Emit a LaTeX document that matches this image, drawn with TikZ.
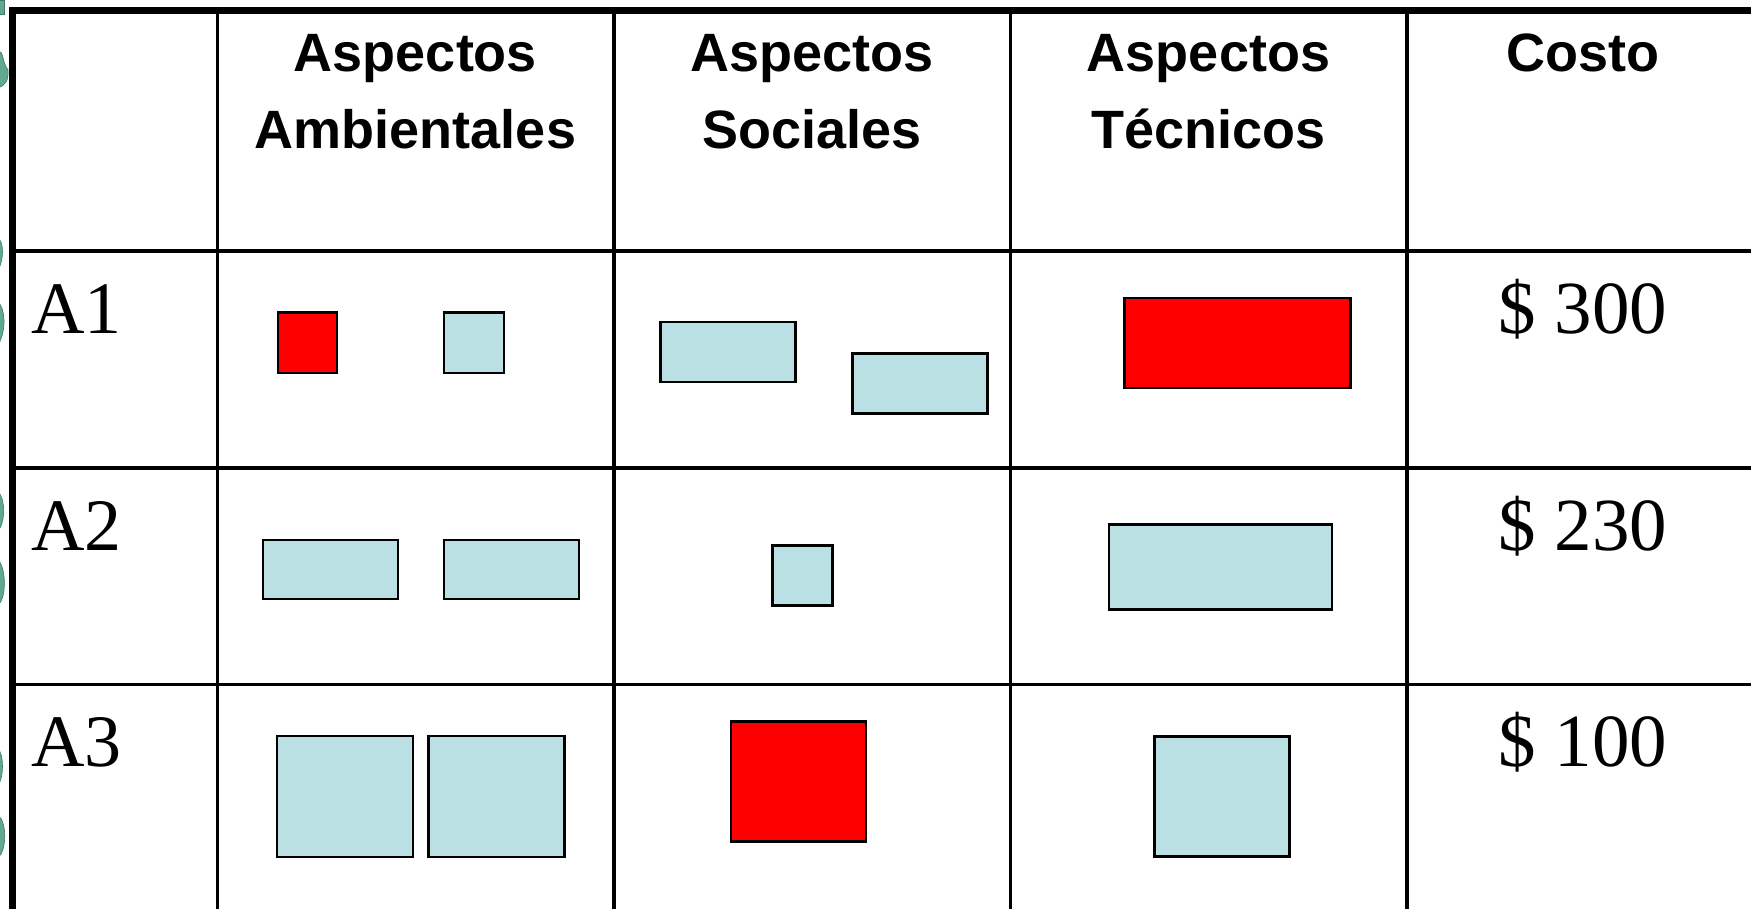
\documentclass[tikz,border=0pt]{standalone}
\usepackage{fontspec}
\setmainfont{Liberation Serif}
\newfontfamily\hdfont{Liberation Sans}
\definecolor{cellblue}{HTML}{BBE0E3}
\definecolor{cellred}{HTML}{FF0000}
\definecolor{blobgreen}{HTML}{5FA892}
\tikzset{
  boxbase/.style={draw=black, line width=2.6pt, inner sep=0pt, outer sep=0pt},
  bluebox/.style={boxbase, fill=cellblue},
  redbox/.style={boxbase, fill=cellred},
  head/.style={anchor=base, inner sep=0pt, font=\hdfont\bfseries\fontsize{54}{64}\selectfont},
  rowlab/.style={anchor=base west, inner sep=0pt, font=\fontsize{74}{80}\selectfont},
  cost/.style={anchor=base, inner sep=0pt, font=\fontsize{75}{80}\selectfont},
  thin/.style={line width=3.3pt},
  thick/.style={line width=6.8pt},
  blob/.style={fill=blobgreen, draw=blobgreen!70!black, line width=0.6pt}
}
\begin{document}
\begin{tikzpicture}[x=1pt,y=-1pt]
\useasboundingbox (0,0) rectangle (1751,909);
\fill[white] (0,0) rectangle (1751,909);
% decorative green fragments at the left edge
\fill[blob] (-2,0) rectangle (4,14);
\draw[blob] (-2,50) .. controls (4,52) and (2,62) .. (8,70) .. controls (9,80) and (5,86) .. (-2,88) -- cycle;
\draw[blob] (-2,238) .. controls (4,242) and (4,260) .. (-2,270) -- cycle;
\draw[blob] (-2,302) .. controls (5,308) and (7,330) .. (-2,345) -- cycle;
\draw[blob] (-2,492) .. controls (5,497) and (6,522) .. (-2,531) -- cycle;
\draw[blob] (-2,560) .. controls (6,567) and (7,598) .. (-2,605) -- cycle;
\draw[blob] (-2,749) .. controls (4,754) and (4,778) .. (-2,785) -- cycle;
\draw[blob] (-2,815) .. controls (7,822) and (7,850) .. (-2,858) -- cycle;
% table grid
\coordinate (tl) at (12.7,10.4);
\coordinate (tr) at (1751,10.4);
\coordinate (bl) at (12.7,909);
\coordinate (c1t) at (217.5,10.4);
\coordinate (c1b) at (217.5,909);
\coordinate (c2t) at (614,10.4);
\coordinate (c2b) at (614,909);
\coordinate (c3t) at (1010.5,10.4);
\coordinate (c3b) at (1010.5,909);
\coordinate (c4t) at (1407,10.4);
\coordinate (c4b) at (1407,909);
\coordinate (r1l) at (12.7,251);
\coordinate (r1r) at (1751,251);
\coordinate (r2l) at (12.7,468);
\coordinate (r2r) at (1751,468);
\coordinate (r3l) at (12.7,684.5);
\coordinate (r3r) at (1751,684.5);
\draw[thin] (c1t) -- (c1b) (c2t) -- (c2b) (c3t) -- (c3b) (c4t) -- (c4b);
\draw[thin] (r1l) -- (r1r) (r2l) -- (r2r) (r3l) -- (r3r);
\draw[thick] (bl) -- (tl) -- (tr);
% headers
\node[head] (h1a) at (415.5,72) {Aspectos};
\node[head] (h1b) at (415.5,148.5) {Ambientales};
\node[head] (h2a) at (812,72) {Aspectos};
\node[head] (h2b) at (812,148.5) {Sociales};
\node[head] (h3a) at (1208.5,72) {Aspectos};
\node[head] (h3b) at (1208.5,148.5) {Técnicos};
\node[head] (h4a) at (1583,72) {Costo};
% row labels
\node[rowlab] (a1) at (31,334) {A1};
\node[rowlab] (a2) at (31,550) {A2};
\node[rowlab] (a3) at (31,766) {A3};
% costs
\node[cost] (k1) at (1583,334) {\$ 300};
\node[cost] (k2) at (1583,550) {\$ 230};
\node[cost] (k3) at (1583,766) {\$ 100};
% row A1
\node[redbox, minimum width=59pt, minimum height=60pt] (a1amb1) at (307.5,342.8) {};
\node[bluebox, minimum width=60pt, minimum height=60pt] (a1amb2) at (473.9,342.8) {};
\node[bluebox, minimum width=135pt, minimum height=60pt] (a1soc1) at (727.9,351.9) {};
\node[bluebox, minimum width=135pt, minimum height=60pt] (a1soc2) at (920.2,383.7) {};
\node[redbox, minimum width=226pt, minimum height=90pt] (a1tec) at (1237.5,343) {};
% row A2
\node[bluebox, minimum width=135pt, minimum height=59pt] (a2amb1) at (330.5,569.5) {};
\node[bluebox, minimum width=135pt, minimum height=59pt] (a2amb2) at (511.5,569.5) {};
\node[bluebox, minimum width=60pt, minimum height=60pt] (a2soc) at (802.4,575.6) {};
\node[bluebox, minimum width=223pt, minimum height=85pt] (a2tec) at (1220.4,566.8) {};
% row A3
\node[bluebox, minimum width=136pt, minimum height=121pt] (a3amb1) at (345.1,796.3) {};
\node[bluebox, minimum width=136pt, minimum height=121pt] (a3amb2) at (496.5,796.3) {};
\node[redbox, minimum width=135pt, minimum height=120pt] (a3soc) at (798.6,781.3) {};
\node[bluebox, minimum width=135pt, minimum height=120pt] (a3tec) at (1222.2,796.5) {};
\end{tikzpicture}
\end{document}
